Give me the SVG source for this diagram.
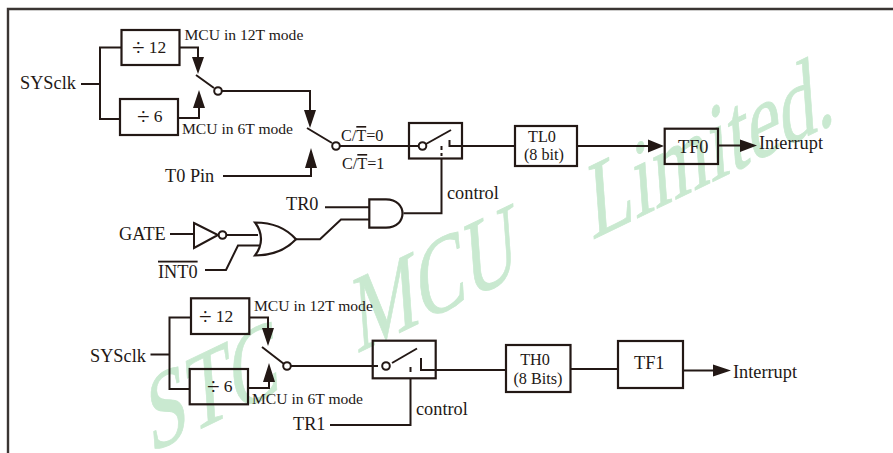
<svg xmlns="http://www.w3.org/2000/svg" width="893" height="453" viewBox="0 0 893 453">
<defs>
<style>
text{font-family:"Liberation Serif","Times New Roman",serif;fill:#231815;font-size:18.3px}
.s{font-size:15.6px}
.m{font-size:16.2px}
.n{font-size:17.500px}
.d{font-size:23px}
.w{font-size:100px;fill:#c9e9d0;stroke:#c9e9d0;stroke-width:.8}
.l,.b{fill:none;stroke:#231815;stroke-width:2}
.b{stroke-width:2.200}
.o{fill:#fff;stroke:#231815;stroke-width:2}
.a{fill:#231815}
</style>
</defs>
<rect width="893" height="453" fill="#fff"/>
<g id="watermark" transform="matrix(.715,-.345,.08,1.1,592,240)">
<text class="w" x="-618" y="0">STC</text>
<text class="w" x="-329" y="0">MCU</text>
<text class="w" x="0" y="0">Limited.</text>
</g>
<path id="frame" d="M8 453V9H893" fill="none" stroke="#3a3533" stroke-width="2.400"/>
<g id="connectors">
<path class="l" d="M81 84H100M121 47.500H100V119H120M179 47.500H198V60M178 118H199V105"/>
<path class="l" d="M222 91H310V112M223 176H311V166"/>
<path class="l" d="M340 146H418M449.500 140V146H514M577 146H650M718 145.500H742"/>
<path class="l" d="M441.500 158V213.300H403.500M325 207.300H369M296 239.300H320L341 219.500H369"/>
<path class="l" d="M441.500 146V150M441.500 153V156"/>
<path class="l" d="M170 234H194M227 235H258M205 270H226L238 245.500H259"/>
<path class="l" d="M150.500 354.500H169.500M191 317.500H169.500V389H190M249 317.500H268V331M248 388H269V380"/>
<path class="l" d="M291 366H378M421 358V370H506M571 369H618M684 370.500H715"/>
<path class="l" d="M330 425H410.500V378M410.500 367V372"/>
<path class="a" d="M192 57H204L198 74ZM304 110H316L310 128ZM193 108H205L199 90ZM305 168H317L311 148ZM648 139.500V152.500L664 146ZM740 139.500V152L757 145.500ZM262 328H274L268 346ZM263 382H275L269 363ZM713 364.500V376.500L731 370.500Z"/>
<path class="l" d="M196 75L214 88M307 128L332 143M262 347L284 364"/>
</g>
<g id="div12a"><rect class="b" x="121.500" y="30" width="58" height="35"/><text class="n" x="132" y="52.500"><tspan class="d" dy="2">÷</tspan><tspan dx="4" dy="-2">12</tspan></text></g>
<g id="div6a"><rect class="b" x="120" y="99" width="58" height="36"/><text class="n" x="137" y="122"><tspan class="d" dy="2">÷</tspan><tspan dx="4" dy="-2">6</tspan></text></g>
<g id="mux1"><circle class="o" cx="218" cy="91" r="3.800"/></g>
<g id="mux2"><circle class="o" cx="336" cy="146" r="3.800"/></g>
<g id="switch0"><rect class="b" x="409" y="123" width="53" height="35.500"/><path class="l" d="M426 144L451 130"/><circle class="o" cx="422.500" cy="146" r="3.800"/></g>
<g id="tl0"><rect class="b" x="515" y="126" width="62" height="40"/><text class="m" x="542" y="141.500" text-anchor="middle">TL0</text><text class="m" x="544" y="160" text-anchor="middle">(8 bit)</text></g>
<g id="tf0"><rect class="b" x="664.700" y="128.700" width="53.300" height="35.300"/><text x="678" y="152.700">TF0</text></g>
<g id="and"><path class="b" d="M369.300 199.300H386C408 199.300 408 227.700 386 227.700H369.300Z"/></g>
<g id="inv"><path class="l" d="M194 223L218 235L194 248Z"/><circle class="o" cx="222.500" cy="235" r="3.800"/></g>
<g id="or"><path class="b" d="M255 222.500C272 222.500 286 228 296 239.300C286 250 272 255.500 255 255.500C263 245 263 233 255 222.500Z"/></g>
<g id="div12b"><rect class="b" x="191" y="298.300" width="58.300" height="35.700"/><text class="n" x="199" y="322"><tspan class="d" dy="2">÷</tspan><tspan dx="4" dy="-2">12</tspan></text></g>
<g id="div6b"><rect class="b" x="189.700" y="369" width="58.300" height="35.300"/><text class="n" x="207" y="392"><tspan class="d" dy="2">÷</tspan><tspan dx="4" dy="-2">6</tspan></text></g>
<g id="mux3"><circle class="o" cx="287" cy="366" r="3.800"/></g>
<g id="switch1"><rect class="b" x="372.700" y="340.700" width="63" height="37.600"/><path class="l" d="M392 363L417 348.500"/><circle class="o" cx="386" cy="366" r="3.800"/></g>
<g id="th0"><rect class="b" x="506" y="345" width="64.500" height="47"/><text class="m" x="535" y="365" text-anchor="middle">TH0</text><text class="m" x="538" y="384" text-anchor="middle">(8 Bits)</text></g>
<g id="tf1"><rect class="b" x="618" y="341" width="65" height="47"/><text x="634" y="369">TF1</text></g>
<g id="labels">
<text x="20" y="89">SYSclk</text>
<text class="s" x="184.500" y="40">MCU in 12T mode</text>
<text class="s" x="182" y="134">MCU in 6T mode</text>
<text x="165" y="182">T0 Pin</text>
<text class="m" x="341" y="141">C/<tspan text-decoration="overline">T</tspan>=0</text>
<text class="m" x="342" y="169">C/<tspan text-decoration="overline">T</tspan>=1</text>
<text x="447" y="199">control</text>
<text x="759" y="148.700">Interrupt</text>
<text x="286" y="210">TR0</text>
<text x="119" y="240">GATE</text>
<text x="158" y="277.700" text-decoration="overline">INT0</text>
<text x="90" y="362">SYSclk</text>
<text class="s" x="254" y="311">MCU in 12T mode</text>
<text class="s" x="252" y="404">MCU in 6T mode</text>
<text x="293" y="430">TR1</text>
<text x="416" y="415">control</text>
<text x="733" y="378">Interrupt</text>
</g>
</svg>
